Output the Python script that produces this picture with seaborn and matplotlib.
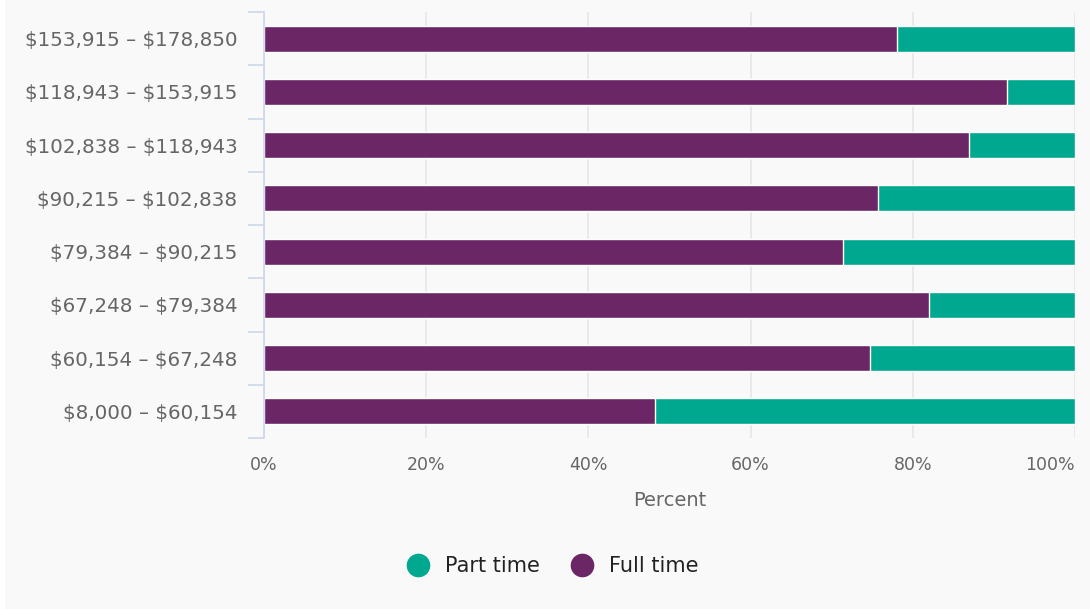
import matplotlib
matplotlib.use("Agg")
import matplotlib.pyplot as plt
from matplotlib.patches import Rectangle
from matplotlib.lines import Line2D
from matplotlib.ticker import FixedLocator, FuncFormatter
import seaborn as sns
import pandas as pd

# Income bands, top to bottom
income_bands = [
    "$153,915 – $178,850",
    "$118,943 – $153,915",
    "$102,838 – $118,943",
    "$90,215 – $102,838",
    "$79,384 – $90,215",
    "$67,248 – $79,384",
    "$60,154 – $67,248",
    "$8,000 – $60,154",
]
# Share of workers (%) in each band
full_time = [78.0, 91.6, 86.9, 75.7, 71.4, 82.0, 74.7, 48.2]
part_time = [22.0, 8.4, 13.1, 24.3, 28.6, 18.0, 25.3, 51.8]
x_ticks = [0, 20, 40, 60, 80, 100]

PURPLE = "#6b2666"
TEAL = "#00a88f"
BG = "#f9f9f9"
AXIS_BLUE = "#ccd6eb"
GRID = "#e6e6e6"
TEXT = "#666666"

df = pd.DataFrame({
    "band": income_bands,
    "full": full_time,
    "part": part_time,
})
df["stack_total"] = df["full"] + df["part"]

sns.set_theme(style="white")
plt.rcParams["font.family"] = ["DejaVu Sans"]

fig = plt.figure(figsize=(10.9, 6.09), dpi=100)
fig.patch.set_facecolor("white")
fig.patches.append(Rectangle((5 / 1090, 0), 1, 1, transform=fig.transFigure,
                             facecolor=BG, edgecolor="none", zorder=-10))

ax = fig.add_axes([264 / 1090, 1 - 438 / 609, (1075 - 264) / 1090, 426 / 609])
ax.set_facecolor("none")

# Stacked bars: the part-time segment sits on the right of the full-time one
sns.barplot(data=df, y="band", x="stack_total", order=income_bands, color=TEAL,
            width=0.49, orient="h", ax=ax, edgecolor="white", linewidth=1.0,
            saturation=1, zorder=2)
sns.barplot(data=df, y="band", x="full", order=income_bands, color=PURPLE,
            width=0.49, orient="h", ax=ax, edgecolor="white", linewidth=1.0,
            saturation=1, zorder=3)

ax.set_xlim(0, 100)
ax.set_ylim(len(income_bands) - 0.5, -0.5)

# Dollar signs are shown literally, not as math delimiters
ax.yaxis.set_major_locator(FixedLocator(range(len(income_bands))))
ax.set_yticklabels([b.replace("$", r"\$") for b in income_bands])

ax.xaxis.set_major_locator(FixedLocator(x_ticks))
ax.xaxis.set_major_formatter(FuncFormatter(lambda v, p: f"{int(v)}%"))
ax.grid(axis="x", color=GRID, linewidth=1.2, zorder=0)
ax.grid(axis="y", visible=False)
ax.set_axisbelow(True)

for side in ["top", "right", "bottom"]:
    ax.spines[side].set_visible(False)
ax.spines["left"].set_color(AXIS_BLUE)
ax.spines["left"].set_linewidth(1.2)
ax.spines["left"].set_zorder(4)

ax.tick_params(axis="x", length=0, pad=13, labelsize=12.5, labelcolor=TEXT)
ax.tick_params(axis="y", which="major", length=0, pad=19, labelsize=14.3,
               labelcolor=TEXT)
ax.yaxis.set_minor_locator(FixedLocator([i - 0.5 for i in range(len(income_bands) + 1)]))
ax.tick_params(axis="y", which="minor", length=11.5, width=1.2, color=AXIS_BLUE,
               left=True)

ax.set_ylabel("")
ax.set_xlabel("Percent", fontsize=14, color=TEXT, labelpad=12)

# Keep the last x label inside the plot edge
fig.canvas.draw()
xlabels = ax.get_xticklabels()
xlabels[-1].set_horizontalalignment("right")
xlabels[-1].set_x(100.3)

handles = [
    Line2D([], [], marker="o", linestyle="none", markersize=16,
           markerfacecolor=TEAL, markeredgecolor=TEAL, label="Part time"),
    Line2D([], [], marker="o", linestyle="none", markersize=16,
           markerfacecolor=PURPLE, markeredgecolor=PURPLE, label="Full time"),
]
fig.legend(handles=handles, loc="center", bbox_to_anchor=(548 / 1090, 1 - 566 / 609),
           ncol=2, frameon=False, fontsize=15, handletextpad=0.3,
           columnspacing=1.0, labelcolor="#222222")

fig.savefig("out.png", dpi=100, facecolor=fig.get_facecolor())
